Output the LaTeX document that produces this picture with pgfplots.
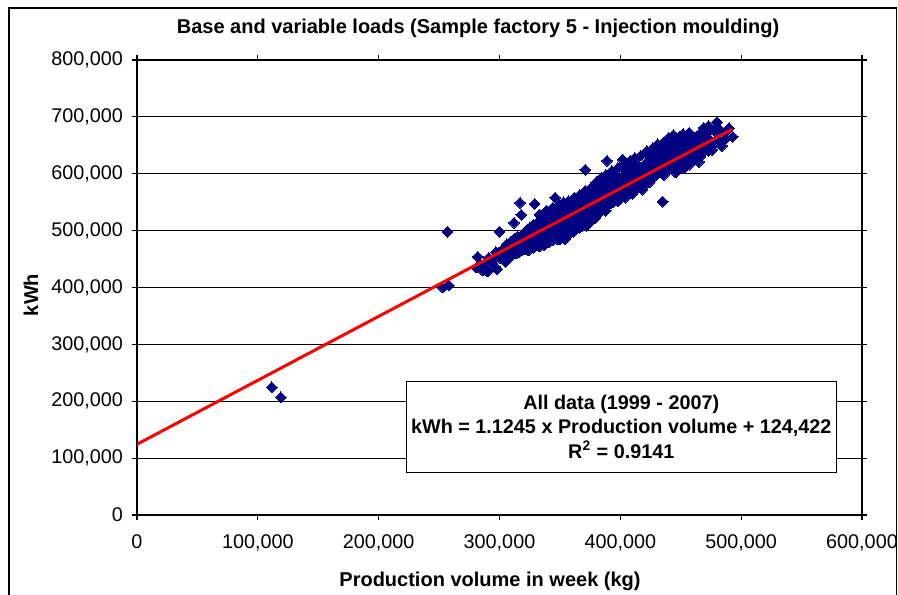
\documentclass[border=0pt]{standalone}
\usepackage{pgfplots}
\pgfplotsset{compat=1.18}
\usepackage{pgfplotstable}
\usepackage{fontspec}
\setmainfont{Liberation Sans}
\definecolor{navyc}{RGB}{0,0,128}
\pgfplotstableread{
x y
111.6 224.6
119 207
253 400
258 404
257 498
281 435
282 454
284 441
286 430
288 440
290 428
291 452
293 445
294 446
296 437
298 432
299 455
300 498
297 462
301 451
302 466
303 458
304 470
305 445
306 476
307 449
308 462
309 480
310 458
311 468
312 514
312 485
313 472
314 460
315 490
316 478
317 549
317 470
318 528
318 488
319 466
320 495
320 476
321 484
322 500
322 470
323 489
324 478
325 505
325 492
326 482
327 472
327 498
328 510
329 547
329 488
330 480
330 500
331 493
332 515
332 476
333 505
334 488
334 520
335 498
335 482
336 510
337 492
337 475
338 504
338 525
339 496
339 484
340 512
340 490
340 502
341 480
341 520
342 497
342 508
343 488
343 530
344 515
344 498
345 505
345 490
346 558
346 520
347 496
347 512
348 527
348 485
349 505
349 518
350 500
350 532
350 490
351 512
351 522
352 498
352 540
353 508
353 518
354 495
354 528
355 512
355 503
355 535
356 520
356 492
357 510
357 530
358 518
358 500
359 540
359 525
360 508
360 515
360 532
361 498
361 545
362 522
362 512
363 530
363 505
364 540
364 520
365 512
365 548
365 528
366 518
366 535
367 508
367 525
368 542
368 515
369 530
369 520
370 538
370 510
370 552
371 607
371 528
372 545
372 518
373 535
373 560
374 525
374 548
375 540
375 515
375 556
376 532
376 545
377 528
377 565
378 540
378 552
379 522
379 560
380 548
380 535
380 570
381 556
381 540
382 575
382 548
383 562
383 535
384 568
384 552
385 580
385 545
386 560
386 588
387 555
387 570
388 548
388 582
389 623
389 565
390 575
390 555
391 590
391 562
392 570
392 585
393 558
394 578
394 600
395 568
396 585
396 560
397 575
397 595
398 565
399 582
400 572
400 590
402 625
401 565
402 585
403 598
403 575
404 570
405 590
405 605
406 580
407 572
408 595
408 610
409 582
410 590
410 575
411 600
412 585
413 616
413 595
414 580
415 605
416 590
416 612
417 598
418 585
419 608
420 595
420 615
421 602
422 620
423 608
424 630
425 595
426 612
427 625
428 605
430 611
430 632
432 618
433 640
434 646
435 551
435 622
436 608
437 635
438 650
439 625
440 663
440 640
441 612
442 655
443 630
444 660
445 620
446 602
446 648
447 660
448 638
449 665
450 615
450 645
451 655
452 630
453 662
454 612
455 640
456 650
457 616
458 628
459 663
460 645
461 625
462 655
463 640
465 621
466 660
467 635
469 681
470 668
471 650
472 672
474 660
475 646
476 642
478 675
480 691
481 660
484 649
486 672
490 680
493 665
304 455
308 452
312 460
316 462
319 475
321 468
324 465
326 495
328 470
331 478
333 472
336 480
338 478
340 483
342 486
344 483
346 490
348 495
350 485
352 490
354 485
356 498
358 495
360 500
362 502
364 505
366 505
368 508
370 515
372 508
374 515
376 520
378 522
380 525
382 530
384 535
386 540
388 535
390 545
392 548
394 550
396 555
398 552
400 560
402 562
404 558
406 566
408 570
410 565
412 572
414 575
416 578
418 572
420 580
422 590
424 585
426 598
428 595
430 600
432 602
434 605
436 598
438 612
440 610
442 618
444 625
446 615
448 622
450 628
452 610
455 618
458 640
462 632
464 648
466 630
468 645
473 640
477 655
333 528
339 535
344 540
349 545
353 550
357 552
362 558
366 562
371 570
376 575
380 585
384 592
388 598
393 605
398 610
404 618
408 622
412 628
417 632
422 640
427 645
431 652
436 655
444 668
452 670
457 672
463 665
468 675
473 684
482 678
487 662
}\datatable
\begin{document}
\begin{tikzpicture}
\useasboundingbox (0pt,0pt) rectangle (449pt,297pt);
\draw[line width=0.6pt] (4.5pt,-5pt) rectangle (448.3pt,293pt);
\node[font=\fontsize{10}{12}\selectfont\bfseries] at (239pt,283pt) {Base and variable loads (Sample factory 5 - Injection moulding)};
\node[font=\fontsize{10}{12}\selectfont\bfseries] at (245pt,6.5pt) {Production volume in week (kg)};
\node[font=\fontsize{10}{12}\selectfont\bfseries, rotate=90] at (15.5pt,149.5pt) {kWh};
\begin{axis}[
  at={(68.5pt,39.5pt)}, anchor=south west,
  scale only axis, width=362.5pt, height=227.5pt,
  xmin=0, xmax=600, ymin=0, ymax=800,
  xtick={0,100,200,300,400,500,600},
  ytick={0,100,200,300,400,500,600,700,800},
  xticklabels={0,{100,000},{200,000},{300,000},{400,000},{500,000},{600,000}},
  yticklabels={0,{100,000},{200,000},{300,000},{400,000},{500,000},{600,000},{700,000},{800,000}},
  ymajorgrids,
  major grid style={black, line width=0.6pt},
  tick align=outside, major tick length=2.5pt,
  tick style={black, line width=0.6pt},
  axis line style={black, line width=0.8pt},
  ticklabel style={font=\fontsize{9.9}{11}\selectfont},
  xticklabel style={yshift=-4pt},
  yticklabel style={xshift=-1pt},
  clip marker paths=true,
]
\addplot[navyc, only marks, mark=square*, mark size=1.9pt, mark options={fill=navyc, draw=navyc, line width=0pt, rotate=45}] table[x=x, y=y] {\datatable};
\addplot[red, line width=1.5pt] coordinates {(0,124.4) (492.5,678.2)};
\node[draw=black, line width=0.6pt, fill=white, minimum width=215pt, minimum height=45.5pt, inner sep=0pt, align=center, font=\fontsize{9.9}{12.25}\selectfont\bfseries] at (axis cs:400.8,155.3) {All data (1999 - 2007)\\kWh = 1.1245 x Production volume + 124,422\\R\textsuperscript{2} = 0.9141};
\end{axis}
\end{tikzpicture}
\end{document}
